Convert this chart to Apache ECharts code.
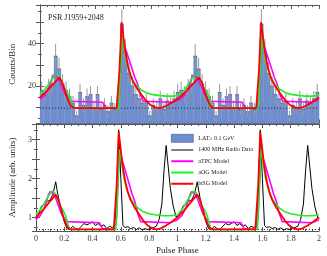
<!DOCTYPE html>
<html><head><meta charset="utf-8">
<script src="https://cdn.jsdelivr.net/npm/echarts@6/dist/echarts.min.js"></script>
<style>html,body{margin:0;padding:0;background:#fff}#c{width:327px;height:256px}</style>
</head><body><div id="c"></div>
<script>
// ---- data (one rotation, shown twice as in the original) ----
const rotations = [0, 1];
const binWidth = 0.025;
const latCounts = [18,16,19,21,34,28,21,18,15,12, 6,17,11,15,16,10,16, 9,11, 8,
                   12, 9,14,49,36,26,20,16,14,12,13, 6,11,10,14, 9,13,12,14,17];
const bgCounts = 9.7;
const bgAmp = 0.7;

const radioPhase = [0,0.02,0.04,0.06,0.08,0.10,0.12,0.14,0.15,0.16,0.18,0.20,0.22,0.24,0.26,0.28,0.30,0.32,0.34,0.36,0.38,0.40,0.42,0.44,0.46,0.48,0.50,0.52,0.54,0.56,0.575,0.585,0.60,0.615,0.63,0.65,0.67,0.69,0.71,0.73,0.75,0.77,0.79,0.81,0.83,0.85,0.87,0.89,0.905,0.92,0.935,0.95,0.97,0.99,1.0];
const radioAmp   = [0.98,1.1,1.3,1.35,1.42,1.45,1.6,1.92,1.7,1.5,1.2,0.9,0.72,0.7,0.78,0.72,0.7,0.78,0.85,0.82,0.85,0.9,0.8,0.85,0.78,0.82,0.72,0.78,0.75,0.8,2.0,3.25,2.0,0.8,0.75,0.77,0.72,0.75,0.7,0.74,0.69,0.72,0.7,0.72,0.75,0.78,0.95,1.35,2.2,2.85,2.3,1.75,1.3,1.02,0.98];

const atpcPhase = [0,0.03,0.06,0.09,0.10,0.12,0.14,0.16,0.18,0.20,0.22,0.23,0.45,0.47,0.48,0.55,0.57,0.59,0.60,0.62,0.64,0.66,0.68,0.70,0.72,0.74,0.75,0.95,1.0];
const atpcAmp   = [0.96,1.05,1.25,1.6,1.67,1.62,1.5,1.3,1.1,0.98,0.9,0.87,0.87,0.72,0.7,0.7,1.0,2.75,2.6,2.35,2.1,1.85,1.6,1.4,1.1,0.9,0.87,0.87,0.95];

const aogPhase = [0,0.04,0.08,0.11,0.13,0.15,0.17,0.19,0.21,0.23,0.24,0.565,0.575,0.59,0.60,0.62,0.64,0.66,0.68,0.70,0.73,0.76,0.80,0.85,0.90,0.95,1.0];
const aogAmp   = [1.08,1.25,1.5,1.68,1.65,1.5,1.32,1.2,1.05,0.78,0.7,0.7,1.5,2.75,2.55,2.05,1.75,1.55,1.42,1.32,1.22,1.15,1.1,1.07,1.05,1.05,1.07];

const lssgPhase = [0,0.05,0.10,0.14,0.16,0.18,0.20,0.22,0.24,0.26,0.55,0.555,0.57,0.585,0.595,0.61,0.63,0.65,0.67,0.70,0.73,0.76,0.79,0.82,0.85,0.88,0.92,0.96,1.0];
const lssgAmp   = [1.01,1.2,1.42,1.59,1.45,1.2,0.95,0.78,0.71,0.7,0.7,0.75,1.8,3.2,2.9,2.4,1.95,1.65,1.45,1.25,1.08,0.92,0.8,0.73,0.7,0.72,0.8,0.9,1.01];

const xTicks = [0,0.2,0.4,0.6,0.8,1,1.2,1.4,1.6,1.8,2];
const countLabels = [20,40];
const ampLabels = [1,2,3];

// ---- axis ranges (calibration of the two panels) ----
const countMin = 2.5, countMax = 58;
const ampMin = 0.66, ampMax = 3.4;
// amplitude range that the top panel's model curves are drawn against
const topAmpMin = 0.253, topAmpMax = 3.70;

// ---- build series data ----
const histData = [];
const errData = [];
rotations.forEach(r => latCounts.forEach((c, i) => {
  const x0 = r + i * binWidth, x1 = r + (i + 1) * binWidth;
  histData.push([x0, x1, c]);
  const e = Math.sqrt(c);
  errData.push([(x0 + x1) / 2, c - e, c + e]);
}));
function rot(ph, v) { return rotations.flatMap(r => ph.map((p, i) => [r + p, v[i]])); }

const font = 'Liberation Serif';
const axisCol = '#555';
const C_LAT = '#6f8dcc', C_RADIO = '#000', C_ATPC = '#ff00ff', C_AOG = '#22ee22', C_LSSG = '#ff0000';

function xAx(grid, pos, labels) {
  return {
    type: 'value', gridIndex: grid, position: pos, min: 0, max: 2, interval: 0.2,
    axisLine: { lineStyle: { color: axisCol, width: 1 } },
    axisTick: { inside: true, length: 4, lineStyle: { color: axisCol } },
    minorTick: { show: true, splitNumber: 4, length: 2, lineStyle: { color: axisCol } },
    splitLine: { show: false },
    axisLabel: labels ? { show: true, fontFamily: font, fontSize: 8, color: '#333', margin: 4,
      formatter: v => xTicks.some(t => Math.abs(t - v) < 1e-6) ? String(+v.toFixed(1)) : '' } : { show: false },
    name: labels ? 'Pulse Phase' : '', nameLocation: 'middle', nameGap: 15,
    nameTextStyle: { fontFamily: font, fontSize: 9, color: '#222' }
  };
}
function yAx(grid, pos, min, max, labels, labelVals, name) {
  return {
    type: 'value', gridIndex: grid, position: pos, min: min, max: max,
    axisLine: { show: true, lineStyle: { color: axisCol, width: 1 } },
    axisTick: { show: true, inside: true, length: 4, lineStyle: { color: axisCol } },
    minorTick: { show: true, splitNumber: 2, length: 2, lineStyle: { color: axisCol } },
    splitLine: { show: false },
    axisLabel: labels ? { show: true, fontFamily: font, fontSize: 8, color: '#333', margin: 4,
      formatter: v => labelVals.some(t => Math.abs(t - v) < 1e-6) ? String(v) : '' } : { show: false },
    name: name || '', nameLocation: 'middle', nameGap: 16, nameRotate: 90,
    nameTextStyle: { fontFamily: font, fontSize: 9, color: '#222' }
  };
}

function modelLine(name, color, ph, v, xi, yi, w) {
  return { name: name, type: 'line', xAxisIndex: xi, yAxisIndex: yi, data: rot(ph, v),
    symbol: 'none', showSymbol: false, smooth: false, z: 5,
    lineStyle: { color: color, width: w }, itemStyle: { color: color }, silent: true, animation: false };
}
// legend icons: a horizontal stroke inside a 22x8 box (corner dots fix the box)
const lineIcon = h => 'path://M0,0H0.01V0.01H0ZM21.99,7.99H22V8H21.99ZM0,' + (4 - h / 2) + 'H22V' + (4 + h / 2) + 'H0Z';

const option = {
  animation: false,
  grid: [
    { left: 30, right: 8, top: 5, height: 118.5 },
    { left: 30, right: 8, top: 124, height: 111 }
  ],
  xAxis: [ xAx(0, 'bottom', false), xAx(0, 'top', false), xAx(1, 'bottom', true), xAx(1, 'top', false) ],
  yAxis: [
    yAx(0, 'left', countMin, countMax, true, countLabels, 'Counts/Bin'),
    yAx(0, 'right', countMin, countMax, false),
    { type: 'value', gridIndex: 0, min: topAmpMin, max: topAmpMax, show: false },
    yAx(1, 'left', ampMin, ampMax, true, ampLabels, 'Amplitude (arb. units)'),
    yAx(1, 'right', ampMin, ampMax, false)
  ],
  title: { text: 'PSR J1959+2048', left: 43, top: 9,
    textStyle: { fontFamily: font, fontSize: 8, fontWeight: 'normal', color: '#222' } },
  legend: {
    orient: 'vertical', left: 166, top: 129, itemWidth: 22, itemHeight: 8, itemGap: 3.3,
    textStyle: { fontFamily: font, fontSize: 6, color: '#222' },
    data: [
      { name: 'LAT≥ 0.1 GeV', icon: 'rect', itemStyle: { color: C_LAT, borderColor: '#3e5590', borderWidth: 0.6 } },
      { name: '1400 MHz Radio Data', icon: lineIcon(1), itemStyle: { color: C_RADIO } },
      { name: 'aTPC Model', icon: lineIcon(2), itemStyle: { color: C_ATPC } },
      { name: 'aOG Model', icon: lineIcon(2), itemStyle: { color: C_AOG } },
      { name: 'lsSG Model', icon: lineIcon(2), itemStyle: { color: C_LSSG } }
    ]
  },
  series: [
    { name: 'LAT≥ 0.1 GeV', type: 'custom', xAxisIndex: 0, yAxisIndex: 0, data: histData,
      encode: { x: [0, 1], y: 2 }, z: 1,
      itemStyle: { color: C_LAT },
      renderItem: (params, api) => {
        const p0 = api.coord([api.value(0), api.value(2)]);
        const p1 = api.coord([api.value(1), countMin]);
        return { type: 'rect', shape: { x: p0[0], y: p0[1], width: p1[0] - p0[0] + 0.3, height: p1[1] - p0[1] },
          style: { fill: C_LAT } };
      } },
    { type: 'custom', xAxisIndex: 0, yAxisIndex: 0, data: histData, encode: { x: [0, 1], y: 2 }, z: 2,
      renderItem: (params, api) => {
        const p0 = api.coord([api.value(0), api.value(2)]);
        const p1 = api.coord([api.value(1), api.value(2)]);
        return { type: 'line', shape: { x1: p0[0], y1: p0[1], x2: p1[0], y2: p1[1] },
          style: { stroke: '#3e5590', lineWidth: 1 } };
      } },
    { type: 'custom', xAxisIndex: 0, yAxisIndex: 0, data: errData, encode: { x: 0, y: [1, 2] }, z: 2,
      renderItem: (params, api) => {
        const a = api.coord([api.value(0), api.value(1)]);
        const b = api.coord([api.value(0), api.value(2)]);
        return { type: 'line', shape: { x1: a[0], y1: a[1], x2: b[0], y2: b[1] },
          style: { stroke: '#999999', lineWidth: 1 } };
      } },
    { type: 'line', xAxisIndex: 0, yAxisIndex: 0, data: [[0, bgCounts], [2, bgCounts]], symbol: 'none', z: 3,
      lineStyle: { color: '#222', width: 1, type: [1, 2] } },
    { type: 'line', xAxisIndex: 2, yAxisIndex: 3, data: [[0, bgAmp], [2, bgAmp]], symbol: 'none', z: 3,
      lineStyle: { color: '#222', width: 1, type: [1, 2] } },
    modelLine('aTPC Model', C_ATPC, atpcPhase, atpcAmp, 0, 2, 1.6),
    modelLine('aOG Model', C_AOG, aogPhase, aogAmp, 0, 2, 1.6),
    modelLine('lsSG Model', C_LSSG, lssgPhase, lssgAmp, 0, 2, 1.8),
    modelLine('1400 MHz Radio Data', C_RADIO, radioPhase, radioAmp, 2, 3, 1),
    modelLine('aTPC Model', C_ATPC, atpcPhase, atpcAmp, 2, 3, 1.6),
    modelLine('aOG Model', C_AOG, aogPhase, aogAmp, 2, 3, 1.6),
    modelLine('lsSG Model', C_LSSG, lssgPhase, lssgAmp, 2, 3, 1.8)
  ]
};
echarts.init(document.getElementById('c'), null, { renderer: 'canvas' }).setOption(option);
</script>
</body></html>
